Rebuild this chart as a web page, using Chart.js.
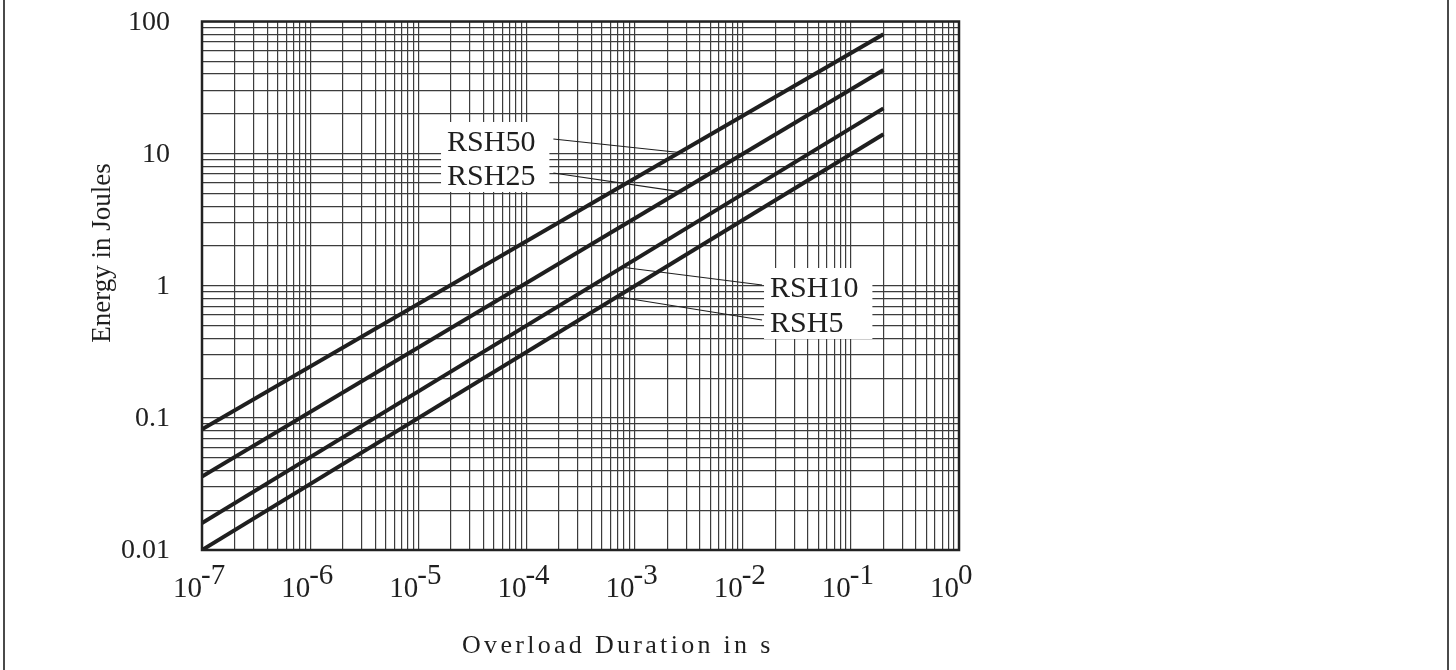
<!DOCTYPE html>
<html>
<head>
<meta charset="utf-8">
<script src="https://cdn.jsdelivr.net/npm/chart.js@4.4.1/dist/chart.umd.min.js"></script>
<style>
  html, body { margin: 0; padding: 0; background: #fff; }
  #wrap { width: 1456px; height: 670px; }
</style>
</head>
<body>
<div id="wrap"><canvas id="energyChart" width="1456" height="670"></canvas></div>
<script>
// 数据：过载时间 (s) 与能量 (J)
const durations = [1e-7, 0.2];
const rsh50 = [0.082, 80];
const rsh25 = [0.036, 43];
const rsh10 = [0.016, 22];
const rsh5 = [0.01, 14];
const seriesNames = ['RSH50', 'RSH25', 'RSH10', 'RSH5'];

// 坐标轴刻度
const xDecades = [1e-7, 1e-6, 1e-5, 1e-4, 1e-3, 1e-2, 1e-1, 1];
const xTickExponents = ['-7', '-6', '-5', '-4', '-3', '-2', '-1', '0'];
const yDecades = [0.01, 0.1, 1, 10, 100];
const yTickLabels = ['0.01', '0.1', '1', '10', '100'];
const minorSteps = [1, 2, 3, 4, 5, 6, 7, 8, 9];

// 标签位置 (数据坐标)：文字左下角，引线落在曲线上的 x 值
const labelTextAt = [[1.844e-5, 10.47], [1.844e-5, 5.79], [0.01789, 0.822], [0.01789, 0.4467]];
const leaderTargetX = [2.6e-3, 2.6e-3, 7.7e-4, 6.9e-4];

const FONT = '"Liberation Serif", "DejaVu Serif", serif';
const INK = '#1f1f1f';

function gridValues(decades) {
  const vals = [];
  decades.forEach((d, i) => {
    if (i === decades.length - 1) { vals.push(d); return; }
    minorSteps.forEach(m => vals.push(d * m));
  });
  return vals;
}

function toPoints(xs, ys) {
  return xs.map((x, i) => ({ x: x, y: ys[i] }));
}

// 曲线在对数坐标下的取值
function valueOnSeries(ys, x) {
  const lx0 = Math.log10(durations[0]), lx1 = Math.log10(durations[1]);
  const ly0 = Math.log10(ys[0]), ly1 = Math.log10(ys[1]);
  const t = (Math.log10(x) - lx0) / (lx1 - lx0);
  return Math.pow(10, ly0 + t * (ly1 - ly0));
}

const allSeries = [rsh50, rsh25, rsh10, rsh5];

const annotatePlugin = {
  id: 'annotate',
  beforeDatasetsDraw(chart) {
    const ctx = chart.ctx;
    const xs = chart.scales.x, ys = chart.scales.y;
    ctx.save();
    ctx.font = '30px ' + FONT;
    ctx.fillStyle = '#fff';
    [[0, 1], [2, 3]].forEach(group => {
      const left = xs.getPixelForValue(labelTextAt[group[0]][0]);
      const w = Math.max(...group.map(i => ctx.measureText(seriesNames[i]).width));
      const top = ys.getPixelForValue(labelTextAt[group[0]][1]) - 29;
      const bottom = ys.getPixelForValue(labelTextAt[group[1]][1]) + 7;
      ctx.fillRect(left - 6, top, w + 20, bottom - top);
    });
    ctx.restore();
  },
  afterDatasetsDraw(chart) {
    const ctx = chart.ctx;
    const xs = chart.scales.x, ys = chart.scales.y;
    const area = chart.chartArea;
    ctx.save();

    // 图框
    ctx.strokeStyle = '#222';
    ctx.lineWidth = 2.5;
    ctx.strokeRect(area.left, area.top, area.right - area.left, area.bottom - area.top);

    // 标签和引线
    ctx.font = '30px ' + FONT;
    ctx.fillStyle = INK;
    ctx.textBaseline = 'alphabetic';
    ctx.textAlign = 'left';
    seriesNames.forEach((name, i) => {
      const tx = xs.getPixelForValue(labelTextAt[i][0]);
      const ty = ys.getPixelForValue(labelTextAt[i][1]);
      ctx.fillText(name, tx, ty);
      const group = i < 2 ? [0, 1] : [2, 3];
      const w = Math.max(...group.map(j => ctx.measureText(seriesNames[j]).width));
      const sx = i < 2 ? tx + w + 18 : tx - 8;
      const sy = ty - 12;
      const ex = xs.getPixelForValue(leaderTargetX[i]);
      const ey = ys.getPixelForValue(valueOnSeries(allSeries[i], leaderTargetX[i]));
      ctx.strokeStyle = INK;
      ctx.lineWidth = 1.2;
      ctx.beginPath();
      ctx.moveTo(sx, sy);
      ctx.lineTo(ex, ey);
      ctx.stroke();
    });
    ctx.restore();
  },
  afterDraw(chart) {
    const ctx = chart.ctx;
    const xs = chart.scales.x, ys = chart.scales.y;
    const area = chart.chartArea;
    ctx.save();
    ctx.fillStyle = INK;

    // y 轴刻度
    ctx.font = '28px ' + FONT;
    ctx.textAlign = 'right';
    ctx.textBaseline = 'middle';
    yDecades.forEach((v, i) => {
      ctx.fillText(yTickLabels[i], area.left - 32, ys.getPixelForValue(v) + 1);
    });

    // x 轴刻度 10^n
    ctx.font = '29px ' + FONT;
    ctx.textBaseline = 'alphabetic';
    xDecades.forEach((v, i) => {
      const x = xs.getPixelForValue(v);
      ctx.textAlign = 'right';
      ctx.fillText('10', x, area.bottom + 47);
      ctx.textAlign = 'left';
      ctx.fillText(xTickExponents[i], x - 1, area.bottom + 34);
    });

    // x 轴标题 (字间距)
    ctx.font = '26px ' + FONT;
    ctx.textAlign = 'left';
    let cx = 462;
    for (const ch of 'Overload Duration in s') {
      ctx.fillText(ch, cx, area.bottom + 103);
      cx += ctx.measureText(ch).width + 3.3;
    }

    // y 轴标题
    ctx.font = '27px ' + FONT;
    ctx.translate(110, 253);
    ctx.rotate(-Math.PI / 2);
    ctx.textAlign = 'center';
    ctx.fillText('Energy in Joules', 0, 0);
    ctx.setTransform(1, 0, 0, 1, 0, 0);

    // 页面边线
    ctx.fillStyle = '#4a4a4a';
    ctx.fillRect(3, 0, 2, chart.height);
    ctx.fillRect(1447, 0, 2, chart.height);
    ctx.restore();
  }
};

const lineStyle = {
  borderColor: INK,
  borderWidth: 4,
  pointRadius: 0,
  fill: false,
  tension: 0
};

const ctx = document.getElementById('energyChart').getContext('2d');
new Chart(ctx, {
  type: 'line',
  data: {
    datasets: seriesNames.map((name, i) => Object.assign({
      label: name,
      data: toPoints(durations, allSeries[i])
    }, lineStyle))
  },
  options: {
    responsive: false,
    animation: false,
    layout: { padding: { left: 202, right: 497, top: 21.5, bottom: 120 } },
    plugins: { legend: { display: false }, tooltip: { enabled: false } },
    scales: {
      x: {
        type: 'logarithmic',
        min: 1e-7,
        max: 1,
        afterBuildTicks: axis => { axis.ticks = gridValues(xDecades).map(v => ({ value: v })); },
        ticks: { display: false, autoSkip: false, callback: () => '' },
        grid: { color: '#3c3c3c', lineWidth: 1.2, drawTicks: false },
        border: { display: false },
        title: { display: false }
      },
      y: {
        type: 'logarithmic',
        min: 0.01,
        max: 100,
        afterBuildTicks: axis => { axis.ticks = gridValues(yDecades).map(v => ({ value: v })); },
        ticks: { display: false, autoSkip: false, callback: () => '' },
        grid: { color: '#3c3c3c', lineWidth: 1.2, drawTicks: false },
        border: { display: false },
        title: { display: false }
      }
    }
  },
  plugins: [annotatePlugin]
});
</script>
</body>
</html>
